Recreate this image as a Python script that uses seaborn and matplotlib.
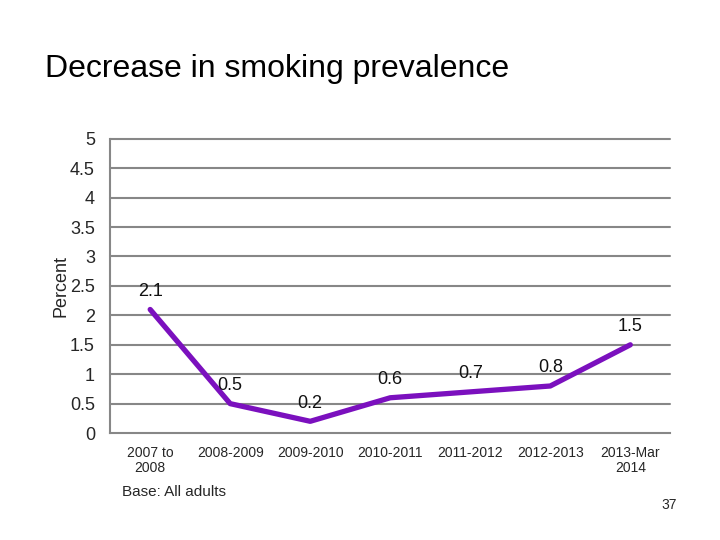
import matplotlib
matplotlib.use("Agg")
import matplotlib.pyplot as plt
import seaborn as sns
import pandas as pd
import numpy as np

# Chart data
periods = ['2007 to\n2008', '2008-2009', '2009-2010', '2010-2011',
           '2011-2012', '2012-2013', '2013-Mar\n2014']
decrease = [2.1, 0.5, 0.2, 0.6, 0.7, 0.8, 1.5]
y_ticks = [0, 0.5, 1, 1.5, 2, 2.5, 3, 3.5, 4, 4.5, 5]

sns.set_style('white')
plt.rcParams['font.family'] = ['Liberation Sans', 'DejaVu Sans']

df = pd.DataFrame({'period': periods, 'decrease': decrease})
df['pos'] = np.arange(len(periods))

fig = plt.figure(figsize=(7.2, 5.4), dpi=100)
ax = fig.add_axes([0.153, 0.198, 0.778, 0.545])

grey = '#878787'
for v in y_ticks[1:]:
    ax.axhline(v, color=grey, linewidth=1.5, zorder=1, clip_on=False)

sns.lineplot(data=df, x='pos', y='decrease', ax=ax, color='#7B10BE',
             linewidth=3.8, zorder=3, solid_joinstyle='round',
             solid_capstyle='round', clip_on=False)

for _, row in df.iterrows():
    ax.annotate(f'{row["decrease"]:g}', (row['pos'], row['decrease']),
                xytext=(0, 13), textcoords='offset points',
                ha='center', va='center', fontsize=13, color='#111111')

ax.set_xlim(-0.5, len(periods) - 0.5)
ax.set_ylim(0, 5)
ax.set_yticks(y_ticks)
ax.set_yticklabels([f'{v:g}' for v in y_ticks], fontsize=13)
ax.set_xticks(df['pos'])
ax.set_xticklabels(periods, fontsize=10, linespacing=1.15)
ax.set_xticks(np.arange(-0.5, len(periods)), minor=True)
ax.tick_params(axis='x', which='major', length=0, pad=9)
ax.tick_params(axis='x', which='minor', length=5, width=1.5, color=grey, direction='out')
ax.tick_params(axis='y', length=5, width=1.5, color=grey, direction='out', pad=6)

for s in ['top', 'right']:
    ax.spines[s].set_visible(False)
for s in ['left', 'bottom']:
    ax.spines[s].set_color(grey)
    ax.spines[s].set_linewidth(1.5)

ax.set_xlabel('')
ax.set_ylabel('Percent', fontsize=13, labelpad=0)

fig.text(0.0625, 0.873, 'Decrease in smoking prevalence', fontsize=23,
         ha='left', va='center', color='#000000')
fig.text(0.169, 0.088, 'Base: All adults', fontsize=11, ha='left', va='center')
fig.text(0.94, 0.064, '37', fontsize=10, ha='right', va='center')

fig.savefig('out.png', dpi=100)
